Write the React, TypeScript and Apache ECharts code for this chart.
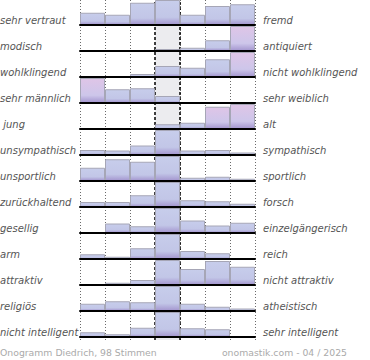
import React, { useEffect, useRef } from "react";
import * as echarts from "echarts";

const leftLabels = [
  "sehr vertraut", "modisch", "wohlklingend", "sehr männlich", " jung",
  "unsympathisch", "unsportlich", "zurückhaltend", "gesellig", "arm",
  "attraktiv", "religiös", "nicht intelligent",
];
const rightLabels = [
  "fremd", "antiquiert", "nicht wohlklingend", "sehr weiblich", "alt",
  "sympathisch", "sportlich", "forsch", "einzelgängerisch", "reich",
  "nicht attraktiv", "atheistisch", "sehr intelligent",
];
const scaleSteps = ["1", "2", "3", "4", "5", "6", "7"];

const rowVertraut = [49, 41, 89, 100, 41, 76, 83];
const rowModisch = [0, 0, 2, 8, 13, 43, 100];
const rowWohlklingend = [0, 4, 12, 44, 37, 71, 100];
const rowMaennlich = [100, 55, 59, 28, 0, 0, 0];
const rowJung = [2, 0, 2, 19, 25, 89, 100];
const rowSympathisch = [20, 18, 38, 100, 18, 20, 10];
const rowSportlich = [53, 87, 77, 100, 13, 17, 9];
const rowZurueckhaltend = [20, 20, 47, 100, 27, 23, 13];
const rowGesellig = [2, 38, 27, 100, 50, 30, 41];
const rowArm = [19, 9, 43, 100, 32, 23, 0];
const rowAttraktiv = [0, 9, 20, 100, 64, 96, 73];
const rowReligioes = [29, 39, 35, 100, 29, 17, 10];
const rowIntelligent = [19, 11, 37, 100, 35, 31, 4];

const rows = [
  rowVertraut, rowModisch, rowWohlklingend, rowMaennlich, rowJung,
  rowSympathisch, rowSportlich, rowZurueckhaltend, rowGesellig, rowArm,
  rowAttraktiv, rowReligioes, rowIntelligent,
];

// [row, column] of bars drawn in the highlight colour
const highlighted = [[1, 6], [2, 6], [3, 0], [4, 5], [4, 6]];

const footerLeft = "Onogramm Diedrich, 98 Stimmen";
const footerRight = "onomastik.com - 04 / 2025";

const ROW_H = 26;
const BAR_H = 25;
const PLOT_LEFT = 80;
const PLOT_W = 175;

const blueFill = new echarts.graphic.LinearGradient(0, 0, 0, 1, [
  { offset: 0, color: "#c7cdeb" },
  { offset: 0.7, color: "#c2c6e7" },
  { offset: 1, color: "#a496cf" },
]);
const pinkFill = new echarts.graphic.LinearGradient(0, 0, 0, 1, [
  { offset: 0, color: "#dfc5e7" },
  { offset: 0.7, color: "#cdc6ea" },
  { offset: 1, color: "#a496cf" },
]);

export default function App() {
  const ref = useRef<HTMLDivElement>(null);
  useEffect(() => {
    if (!ref.current) return;
    const chart = echarts.init(ref.current, undefined, { renderer: "svg" });
    const n = rows.length;

    const grids: any[] = [
      { left: PLOT_LEFT, width: PLOT_W, top: 0, height: ROW_H * (n - 1) + BAR_H + 3 },
    ];
    const xAxes: any[] = [
      {
        gridIndex: 0, type: "value", min: 0, max: 7, interval: 1,
        axisLine: { show: false }, axisTick: { show: false }, axisLabel: { show: false },
        splitLine: { show: true, lineStyle: { color: "#6a6a6a", width: 1, type: [1, 2] } },
        z: 0,
      },
    ];
    const yAxes: any[] = [{ gridIndex: 0, type: "value", min: 0, max: 1, show: false }];
    const series: any[] = [
      {
        type: "line", xAxisIndex: 0, yAxisIndex: 0, data: [], z: 1, silent: true,
        markArea: {
          silent: true,
          itemStyle: { color: "#ececef" },
          data: [[{ xAxis: 3 }, { xAxis: 4 }]],
        },
      },
      {
        type: "line", xAxisIndex: 0, yAxisIndex: 0, data: [], z: 20, silent: true,
        markLine: {
          silent: true, symbol: "none", label: { show: false },
          lineStyle: { color: "#000", width: 1.5, type: [3, 2] },
          data: [{ xAxis: 3 }, { xAxis: 4 }],
        },
      },
    ];
    const graphics: any[] = [];

    rows.forEach((vals, i) => {
      grids.push({ left: PLOT_LEFT, width: PLOT_W, top: i * ROW_H, height: BAR_H });
      xAxes.push({
        gridIndex: i + 1, type: "category", data: scaleSteps,
        axisTick: { show: false }, axisLabel: { show: false },
        axisLine: { show: true, lineStyle: { color: "#000", width: 2 } },
        splitLine: { show: false },
        z: 15,
      });
      yAxes.push({ gridIndex: i + 1, type: "value", min: 0, max: 100, show: false });
      series.push({
        type: "bar", xAxisIndex: i + 1, yAxisIndex: i + 1,
        barCategoryGap: "0%", z: 5, silent: true,
        itemStyle: { borderColor: "#a6a6b6", borderWidth: 1 },
        data: vals.map((v, j) => ({
          value: v,
          itemStyle: {
            color: highlighted.some(([r, c]) => r === i && c === j) ? pinkFill : blueFill,
          },
        })),
      });
      const cy = i * ROW_H + 20;
      graphics.push({
        type: "text", x: 0, y: cy, z: 30,
        style: {
          text: leftLabels[i], fill: "#555", align: "left", verticalAlign: "middle",
          font: 'italic 10px "DejaVu Sans"',
        },
      });
      graphics.push({
        type: "text", x: 263, y: cy, z: 30,
        style: {
          text: rightLabels[i], fill: "#555", align: "left", verticalAlign: "middle",
          font: 'italic 10px "DejaVu Sans"',
        },
      });
    });

    graphics.push({
      type: "text", x: 0, y: 352, z: 30,
      style: {
        text: footerLeft, fill: "#aaa", align: "left", verticalAlign: "middle",
        font: '9.3px "DejaVu Sans"',
      },
    });
    graphics.push({
      type: "text", x: 347, y: 352, z: 30,
      style: {
        text: footerRight, fill: "#aaa", align: "right", verticalAlign: "middle",
        font: '9.3px "DejaVu Sans"',
      },
    });

    chart.setOption({
      animation: false,
      backgroundColor: "#fff",
      grid: grids,
      xAxis: xAxes,
      yAxis: yAxes,
      series,
      graphic: graphics,
    });
    return () => chart.dispose();
  }, []);
  return (
    <div
      ref={ref}
      style={{ position: "absolute", left: 0, top: 0, width: 370, height: 360 }}
    />
  );
}
